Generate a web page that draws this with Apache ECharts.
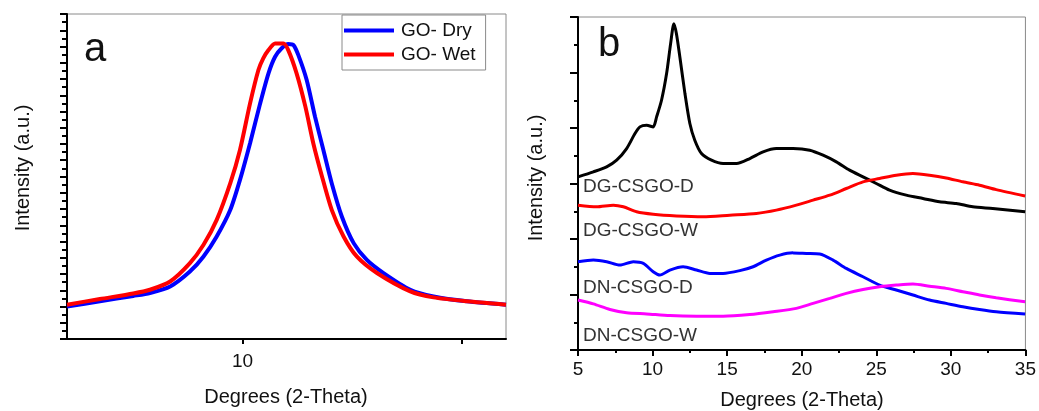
<!DOCTYPE html>
<html>
<head>
<meta charset="utf-8">
<script src="https://cdn.jsdelivr.net/npm/echarts@6/dist/echarts.min.js"></script>
<style>
html,body{margin:0;padding:0;background:#fff;}
#c{width:1039px;height:411px;}
</style>
</head>
<body>
<div id="c"></div>
<script>
// ---------- Panel a data ----------
const aDryX = [6.0, 6.75, 7.51, 7.89, 8.35, 8.80, 9.11, 9.41, 9.72, 9.94, 10.17, 10.40, 10.59, 10.74, 10.89, 11.04, 11.16, 11.27, 11.46, 11.65, 11.84, 12.03, 12.26, 12.53, 12.83, 13.21, 13.82, 14.35, 15.11, 16.0];
const aDryY = [2.0, 2.32, 2.65, 2.83, 3.23, 4.15, 5.08, 6.31, 7.95, 9.79, 12.05, 14.5, 16.35, 17.37, 17.89, 18.15, 18.09, 17.47, 15.94, 13.68, 11.63, 9.59, 7.54, 5.9, 4.87, 4.06, 3.03, 2.62, 2.32, 2.11];
const aWetX = [6.0, 6.75, 7.51, 7.89, 8.35, 8.80, 9.11, 9.41, 9.72, 9.94, 10.17, 10.36, 10.47, 10.59, 10.74, 10.93, 11.04, 11.23, 11.43, 11.61, 11.81, 12.03, 12.3, 12.6, 13.06, 13.82, 14.35, 15.11, 16.0];
const aWetY = [2.11, 2.46, 2.8, 3.03, 3.54, 4.67, 5.8, 7.33, 9.59, 11.63, 14.5, 16.55, 17.27, 17.78, 18.19, 18.19, 17.78, 16.35, 14.3, 12.05, 9.99, 7.95, 6.31, 5.08, 4.06, 2.93, 2.56, 2.32, 2.11];
const aSeriesNames = ['GO- Dry', 'GO- Wet'];
const aXLabels = [10];
const aXTicks = [10, 15];

// ---------- Panel b data ----------
const bDGDX = [5.0, 6.03, 6.92, 7.59, 8.26, 8.82, 9.15, 9.6, 10.04, 10.27, 10.6, 10.94, 11.21, 11.43, 11.6, 11.83, 12.17, 12.5, 12.83, 13.28, 13.95, 14.73, 15.63, 16.52, 17.41, 18.3, 19.42, 20.54, 21.43, 22.32, 23.21, 24.11, 25.0, 25.89, 27.01, 28.13, 29.24, 30.36, 31.47, 32.81, 34.98];
const bDGDY = [6.24, 6.42, 6.6, 6.84, 7.26, 7.8, 8.04, 8.1, 8.04, 8.4, 9.0, 9.96, 11.04, 11.76, 11.4, 10.56, 9.24, 8.16, 7.56, 7.08, 6.84, 6.72, 6.72, 6.9, 7.14, 7.26, 7.26, 7.2, 7.02, 6.78, 6.48, 6.24, 6.0, 5.76, 5.58, 5.46, 5.34, 5.28, 5.16, 5.1, 4.98];
const bDGWX = [5.0, 6.25, 7.37, 8.04, 8.93, 10.04, 11.6, 13.39, 15.18, 16.96, 18.3, 19.64, 20.76, 21.88, 22.99, 24.11, 25.22, 26.34, 27.46, 28.57, 29.69, 30.8, 31.92, 33.04, 34.98];
const bDGWY = [5.22, 5.16, 5.22, 5.16, 4.98, 4.89, 4.83, 4.8, 4.86, 4.92, 5.04, 5.22, 5.4, 5.58, 5.82, 6.06, 6.18, 6.3, 6.36, 6.3, 6.2, 6.06, 5.94, 5.78, 5.55];
const bDNDX = [5.0, 6.03, 6.92, 7.81, 8.71, 9.38, 10.04, 10.49, 11.16, 12.05, 12.95, 13.84, 14.73, 15.85, 16.74, 17.63, 18.53, 19.42, 20.31, 21.21, 22.1, 22.99, 24.11, 25.22, 26.34, 27.46, 28.57, 29.69, 30.8, 31.92, 33.04, 34.98];
const bDNDY = [3.18, 3.24, 3.18, 3.06, 3.18, 3.12, 2.82, 2.7, 2.88, 3.0, 2.88, 2.76, 2.76, 2.86, 3.0, 3.24, 3.42, 3.5, 3.48, 3.46, 3.24, 2.94, 2.64, 2.34, 2.16, 1.98, 1.8, 1.68, 1.56, 1.46, 1.38, 1.3];
const bDNWX = [5.0, 6.03, 7.14, 8.26, 9.6, 11.16, 12.95, 14.73, 16.52, 18.08, 19.64, 20.76, 21.88, 22.99, 24.11, 25.22, 26.34, 27.46, 28.57, 29.69, 30.8, 31.92, 33.04, 34.98];
const bDNWY = [1.8, 1.66, 1.46, 1.34, 1.3, 1.24, 1.22, 1.22, 1.28, 1.38, 1.5, 1.68, 1.86, 2.04, 2.18, 2.28, 2.34, 2.38, 2.3, 2.22, 2.1, 1.98, 1.88, 1.74];
const bSeriesNames = ['DG-CSGO-D', 'DG-CSGO-W', 'DN-CSGO-D', 'DN-CSGO-W'];

const axisTitle = 'Degrees (2-Theta)';
const yTitle = 'Intensity (a.u.)';
const panelLetters = ['a', 'b'];

function zip(xs, ys) { return xs.map((x, i) => [x, ys[i]]); }

const FONT = '"Liberation Sans", Arial, sans-serif';
const chart = echarts.init(document.getElementById('c'), null, {renderer: 'canvas'});

const commonLine = {type: 'line', showSymbol: false, symbol: 'none', smooth: 0.25, animation: false};

function txt(x, y, text, size, color, align, rot) {
  const el = {type: 'text', x: x, y: y, style: {text: text, font: size + 'px ' + FONT, fill: color, align: align, verticalAlign: 'middle', textAlign: align, textVerticalAlign: 'middle'}};
  if (rot) el.rotation = rot;
  return el;
}

const option = {
  animation: false,
  backgroundColor: '#fff',
  grid: [
    {left: 67, top: 14, width: 439, height: 325, show: true, borderColor: '#8a8a8a', borderWidth: 1, backgroundColor: 'transparent'},
    {left: 578, top: 17, width: 448, height: 333, show: true, borderColor: '#8a8a8a', borderWidth: 1, backgroundColor: 'transparent'}
  ],
  legend: {
    data: aSeriesNames,
    left: 342, top: 15,
    orient: 'vertical',
    icon: 'rect',
    itemWidth: 50, itemHeight: 4,
    itemGap: 5,
    padding: [6, 10, 6, 2],
    borderColor: '#8a8a8a', borderWidth: 1,
    backgroundColor: '#fff',
    textStyle: {fontFamily: FONT, fontSize: 19, color: '#111', padding: [0,0,0,2]}
  },
  xAxis: [
    {
      gridIndex: 0, type: 'value', min: 6, max: 16,
      axisLine: {show: true, lineStyle: {color: '#000', width: 2}},
      axisTick: {show: true, inside: false, length: 5, customValues: aXTicks, lineStyle: {color: '#000', width: 2}},
      axisLabel: {show: true, customValues: aXLabels, margin: 13, fontFamily: FONT, fontSize: 19, color: '#111'},
      splitLine: {show: false}
    },
    {
      gridIndex: 1, type: 'value', min: 5, max: 35, interval: 5,
      axisLine: {show: true, lineStyle: {color: '#000', width: 2}},
      axisTick: {show: true, inside: false, length: 6, lineStyle: {color: '#000', width: 2}},
      minorTick: {show: true, splitNumber: 2, length: 3, lineStyle: {color: '#000', width: 2}},
      axisLabel: {show: true, margin: 10, fontFamily: FONT, fontSize: 19, color: '#111'},
      splitLine: {show: false}, minorSplitLine: {show: false}
    }
  ],
  yAxis: [
    {
      gridIndex: 0, type: 'value', min: 0, max: 20, interval: 1,
      axisLine: {show: true, lineStyle: {color: '#000', width: 2}},
      axisTick: {show: true, inside: false, length: 7, lineStyle: {color: '#000', width: 2}},
      minorTick: {show: true, splitNumber: 2, length: 5, lineStyle: {color: '#000', width: 2}},
      axisLabel: {show: false},
      splitLine: {show: false}, minorSplitLine: {show: false}
    },
    {
      gridIndex: 1, type: 'value', min: 0, max: 12, interval: 2,
      axisLine: {show: true, lineStyle: {color: '#000', width: 2}},
      axisTick: {show: true, inside: false, length: 8, lineStyle: {color: '#000', width: 2}},
      minorTick: {show: true, splitNumber: 2, length: 4, lineStyle: {color: '#000', width: 2}},
      axisLabel: {show: false},
      splitLine: {show: false}, minorSplitLine: {show: false}
    }
  ],
  series: [
    Object.assign({}, commonLine, {name: aSeriesNames[0], xAxisIndex: 0, yAxisIndex: 0, data: zip(aDryX, aDryY), lineStyle: {color: '#0000ff', width: 4}, itemStyle: {color: '#0000ff'}}),
    Object.assign({}, commonLine, {name: aSeriesNames[1], xAxisIndex: 0, yAxisIndex: 0, data: zip(aWetX, aWetY), lineStyle: {color: '#ff0000', width: 4}, itemStyle: {color: '#ff0000'}}),
    Object.assign({}, commonLine, {name: bSeriesNames[0], xAxisIndex: 1, yAxisIndex: 1, data: zip(bDGDX, bDGDY), lineStyle: {color: '#000000', width: 3}, itemStyle: {color: '#000'}}),
    Object.assign({}, commonLine, {name: bSeriesNames[1], xAxisIndex: 1, yAxisIndex: 1, data: zip(bDGWX, bDGWY), lineStyle: {color: '#ff0000', width: 3}, itemStyle: {color: '#ff0000'}}),
    Object.assign({}, commonLine, {name: bSeriesNames[2], xAxisIndex: 1, yAxisIndex: 1, data: zip(bDNDX, bDNDY), lineStyle: {color: '#0000ff', width: 3}, itemStyle: {color: '#0000ff'}}),
    Object.assign({}, commonLine, {name: bSeriesNames[3], xAxisIndex: 1, yAxisIndex: 1, data: zip(bDNWX, bDNWY), lineStyle: {color: '#ff00ff', width: 3}, itemStyle: {color: '#ff00ff'}})
  ],
  graphic: [
    txt(84, 50, panelLetters[0], 40, '#111', 'left'),
    txt(598, 45, panelLetters[1], 40, '#111', 'left'),
    txt(286, 397, axisTitle, 20, '#111', 'center'),
    txt(802, 400, axisTitle, 20, '#111', 'center'),
    txt(23, 168, yTitle, 20, '#111', 'center', Math.PI / 2),
    txt(536, 178, yTitle, 20, '#111', 'center', Math.PI / 2),
    txt(583, 187, bSeriesNames[0], 19, '#333', 'left'),
    txt(583, 231, bSeriesNames[1], 19, '#333', 'left'),
    txt(583, 288, bSeriesNames[2], 19, '#333', 'left'),
    txt(583, 336, bSeriesNames[3], 19, '#333', 'left')
  ]
};
chart.setOption(option);
</script>
</body>
</html>
